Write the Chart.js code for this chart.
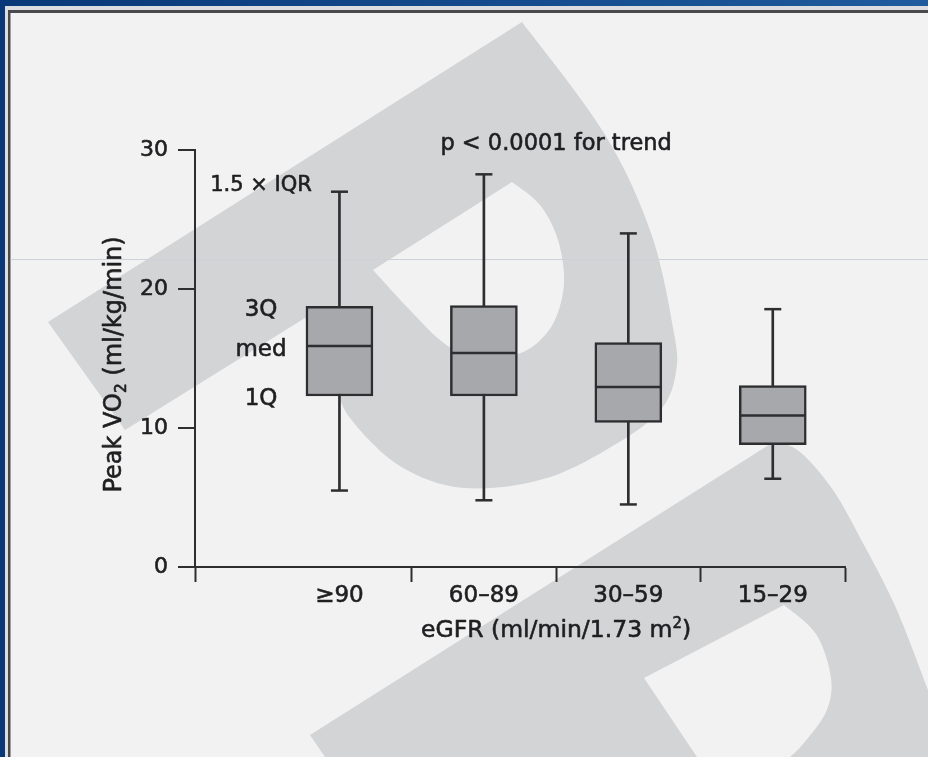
<!DOCTYPE html>
<html>
<head>
<meta charset="utf-8">
<title>Peak VO2 by eGFR category</title>
<style>
  html, body { margin: 0; padding: 0; background: #f2f2f2; }
  #wrap { width: 928px; height: 757px; }
  canvas { display: block; }
</style>
<script src="https://cdn.jsdelivr.net/npm/chart.js@4.4.1/dist/chart.umd.min.js"></script>
</head>
<body>
<div id="wrap"><canvas id="chart" width="928" height="757"></canvas></div>
<script>
// eGFR groups (ml/min/1.73 m2) and Peak VO2 (ml/kg/min) box-plot statistics
const categories  = ['≥90', '60–89', '30–59', '15–29'];
const categoryX   = [1, 2, 3, 4];
const whiskerLow  = [5.5, 4.8, 4.5, 6.35];
const q1          = [12.3, 12.3, 10.4, 8.8];
const median      = [15.9, 15.4, 12.95, 10.9];
const q3          = [18.75, 18.8, 16.15, 13.05];
const whiskerHigh = [27.0, 28.25, 24.0, 18.55];
const yTicks      = [0, 10, 20, 30];
const xTickMarks  = [0, 1.5, 2.5, 3.5, 4.5];

const INK  = '#2e2e31';
const TEXT = '#1f1f22';
const FONT = "'DejaVu Sans', sans-serif";
const TEXT_STROKE = 0.6;

// Catmull-Rom curve through a list of points (current point must be pts[0])
function spline(ctx, pts) {
  for (let i = 0; i < pts.length - 1; i++) {
    const p0 = pts[i - 1] || pts[i], p1 = pts[i], p2 = pts[i + 1], p3 = pts[i + 2] || pts[i + 1];
    ctx.bezierCurveTo(
      p1[0] + (p2[0] - p0[0]) / 6, p1[1] + (p2[1] - p0[1]) / 6,
      p2[0] - (p3[0] - p1[0]) / 6, p2[1] - (p3[1] - p1[1]) / 6,
      p2[0], p2[1]);
  }
}

// Text with optional sub/superscript runs, centred on x, sitting on baseline y
function drawRich(ctx, parts, x, y, size) {
  const small = size * 0.64;
  const fontFor = p => (p.sub || p.sup ? small : size) + 'px ' + FONT;
  let total = 0;
  parts.forEach(p => { ctx.font = fontFor(p); p.w = ctx.measureText(p.t).width; total += p.w; });
  let cx = x - total / 2;
  ctx.textAlign = 'left';
  ctx.textBaseline = 'alphabetic';
  ctx.strokeStyle = TEXT;
  ctx.lineWidth = TEXT_STROKE;
  ctx.lineJoin = 'round';
  parts.forEach(p => {
    ctx.font = fontFor(p);
    const dy = p.sub ? size * 0.2 : p.sup ? -size * 0.38 : 0;
    ctx.fillText(p.t, cx, y + dy);
    ctx.strokeText(p.t, cx, y + dy);
    cx += p.w;
  });
}

const page = {
  id: 'page',
  beforeDraw(chart) {
    const { ctx, width, height } = chart;
    ctx.save();
    // blue frame with grey rule
    const g = ctx.createLinearGradient(0, 0, width, 0);
    g.addColorStop(0, '#083878');
    g.addColorStop(1, '#1f5b9d');
    ctx.fillStyle = g;
    ctx.fillRect(0, 0, width, height);
    ctx.fillStyle = '#dcdde0';
    ctx.fillRect(5, 6, width - 5, height - 6);
    ctx.fillStyle = '#4a4a4d';
    ctx.fillRect(8, 10, width - 8, height - 10);
    ctx.fillStyle = '#f2f2f2';
    ctx.fillRect(10.5, 13, width - 10.5, height - 13);

    ctx.beginPath();
    ctx.rect(10.5, 13, width, height);
    ctx.clip();

    // publisher watermark letters
    ctx.fillStyle = '#d3d4d6';
    ctx.beginPath();
    ctx.moveTo(48, 322);
    ctx.lineTo(522, 22);
    spline(ctx, [[522, 22], [604, 133], [651, 233], [674, 333], [676, 372], [662, 408],
                 [621, 441], [547, 478], [464, 488], [400, 466], [350, 418], [333, 378]]);
    ctx.lineTo(305, 318);
    ctx.lineTo(125, 430);
    ctx.closePath();
    ctx.fill();

    ctx.fillStyle = '#f2f2f2';
    ctx.beginPath();
    ctx.moveTo(373, 270);
    ctx.lineTo(512, 182);
    spline(ctx, [[512, 182], [540, 205], [558, 240], [564, 283], [554, 322], [532, 347],
                 [505, 357], [470, 357], [440, 340], [408, 308], [373, 270]]);
    ctx.closePath();
    ctx.fill();

    ctx.fillStyle = '#d3d4d6';
    ctx.beginPath();
    ctx.moveTo(310, 735);
    ctx.lineTo(775, 441);
    spline(ctx, [[775, 441], [800, 452], [833, 490], [864, 545], [896, 608], [928, 690]]);
    ctx.lineTo(928, 757);
    ctx.lineTo(790, 757);
    spline(ctx, [[790, 757], [803, 744], [826, 712], [831, 678], [816, 634], [784, 605]]);
    ctx.lineTo(644, 678);
    ctx.lineTo(697, 757);
    ctx.lineTo(325, 757);
    ctx.closePath();
    ctx.fill();

    // faint scan rule
    ctx.fillStyle = '#cdd1d8';
    ctx.fillRect(10, 259, width, 1);
    ctx.restore();
  },
  afterDraw(chart) {
    const { ctx, chartArea } = chart;
    const x = chart.scales.x, y = chart.scales.y;
    ctx.save();
    ctx.fillStyle = TEXT;
    drawRich(ctx, [{ t: 'p < 0.0001 for trend' }], x.getPixelForValue(2.5), y.getPixelForValue(30), 22.5);

    const ax = chartArea.left + 66;
    drawRich(ctx, [{ t: '1.5 × IQR' }], ax, y.getPixelForValue(whiskerHigh[0]) - 1, 21);
    drawRich(ctx, [{ t: '3Q' }], ax, y.getPixelForValue(q3[0]) + 10, 23);
    drawRich(ctx, [{ t: 'med' }], ax, y.getPixelForValue(median[0]) + 10.5, 23);
    drawRich(ctx, [{ t: '1Q' }], ax, y.getPixelForValue(q1[0]) + 9, 23);

    drawRich(ctx, [{ t: 'eGFR (ml/min/1.73 m' }, { t: '2', sup: true }, { t: ')' }],
             x.getPixelForValue(2.5), chartArea.bottom + 70, 23.5);

    ctx.translate(121, (chartArea.top + chartArea.bottom) / 2 + 6);
    ctx.rotate(-Math.PI / 2);
    drawRich(ctx, [{ t: 'Peak VO' }, { t: '2', sub: true }, { t: ' (ml/kg/min)' }], 0, 0, 24);
    ctx.restore();
  }
};

const boxData    = categoryX.map((cx, i) => ({ x: cx, y: [q1[i], q3[i]] }));
const rangeData  = categoryX.map((cx, i) => ({ x: cx, y: [whiskerLow[i], whiskerHigh[i]] }));
const medianData = categoryX.map((cx, i) => ({ x: cx, y: median[i] }));
const capData    = categoryX.map((cx, i) => ({ x: cx, y: whiskerLow[i] }))
                  .concat(categoryX.map((cx, i) => ({ x: cx, y: whiskerHigh[i] })));

new Chart(document.getElementById('chart'), {
  type: 'bar',
  data: {
    datasets: [
      { type: 'scatter', data: medianData, pointStyle: 'line', pointRadius: 33,
        pointBorderWidth: 2.5, borderColor: INK, order: 1 },
      { type: 'scatter', data: capData, pointStyle: 'line', pointRadius: 8.5,
        pointBorderWidth: 2.5, borderColor: INK, order: 2 },
      { type: 'bar', data: boxData, backgroundColor: '#a7a8ab', borderColor: INK,
        borderWidth: 2.5, borderSkipped: false, barThickness: 67, grouped: false, order: 3 },
      { type: 'bar', data: rangeData, backgroundColor: INK, borderWidth: 0,
        barThickness: 2, grouped: false, order: 4 }
    ]
  },
  options: {
    responsive: false,
    animation: false,
    devicePixelRatio: 1,
    layout: { padding: { left: 0, right: 83, top: 150, bottom: 0 } },
    plugins: { legend: { display: false }, tooltip: { enabled: false } },
    scales: {
      x: {
        type: 'linear',
        min: 0,
        max: 4.5,
        offset: false,
        afterBuildTicks: s => { s.ticks = xTickMarks.concat(categoryX).sort((a, b) => a - b).map(v => ({ value: v })); },
        afterFit: s => { s.height = 190; },
        ticks: {
          autoSkip: false,
          maxRotation: 0,
          padding: 0,
          color: TEXT,
          textStrokeColor: TEXT,
          textStrokeWidth: TEXT_STROKE,
          font: { family: FONT, size: 23 },
          callback: v => { const i = categoryX.indexOf(v); return i >= 0 ? categories[i] : ''; }
        },
        grid: {
          offset: false,
          drawOnChartArea: false,
          drawTicks: true,
          tickLength: 15,
          tickWidth: 2,
          tickColor: c => (c.tick && categoryX.includes(c.tick.value)) ? 'rgba(0,0,0,0)' : INK
        },
        border: { display: true, color: INK, width: 2 }
      },
      y: {
        min: 0,
        max: 30,
        afterBuildTicks: s => { s.ticks = yTicks.map(v => ({ value: v })); },
        afterFit: s => { s.width = 195; },
        ticks: {
          padding: 10,
          color: TEXT,
          textStrokeColor: TEXT,
          textStrokeWidth: TEXT_STROKE,
          font: { family: FONT, size: 22 }
        },
        grid: { drawOnChartArea: false, drawTicks: true, tickLength: 17, color: INK, lineWidth: 2 },
        border: { display: true, color: INK, width: 2 }
      }
    }
  },
  plugins: [page]
});
</script>
</body>
</html>
